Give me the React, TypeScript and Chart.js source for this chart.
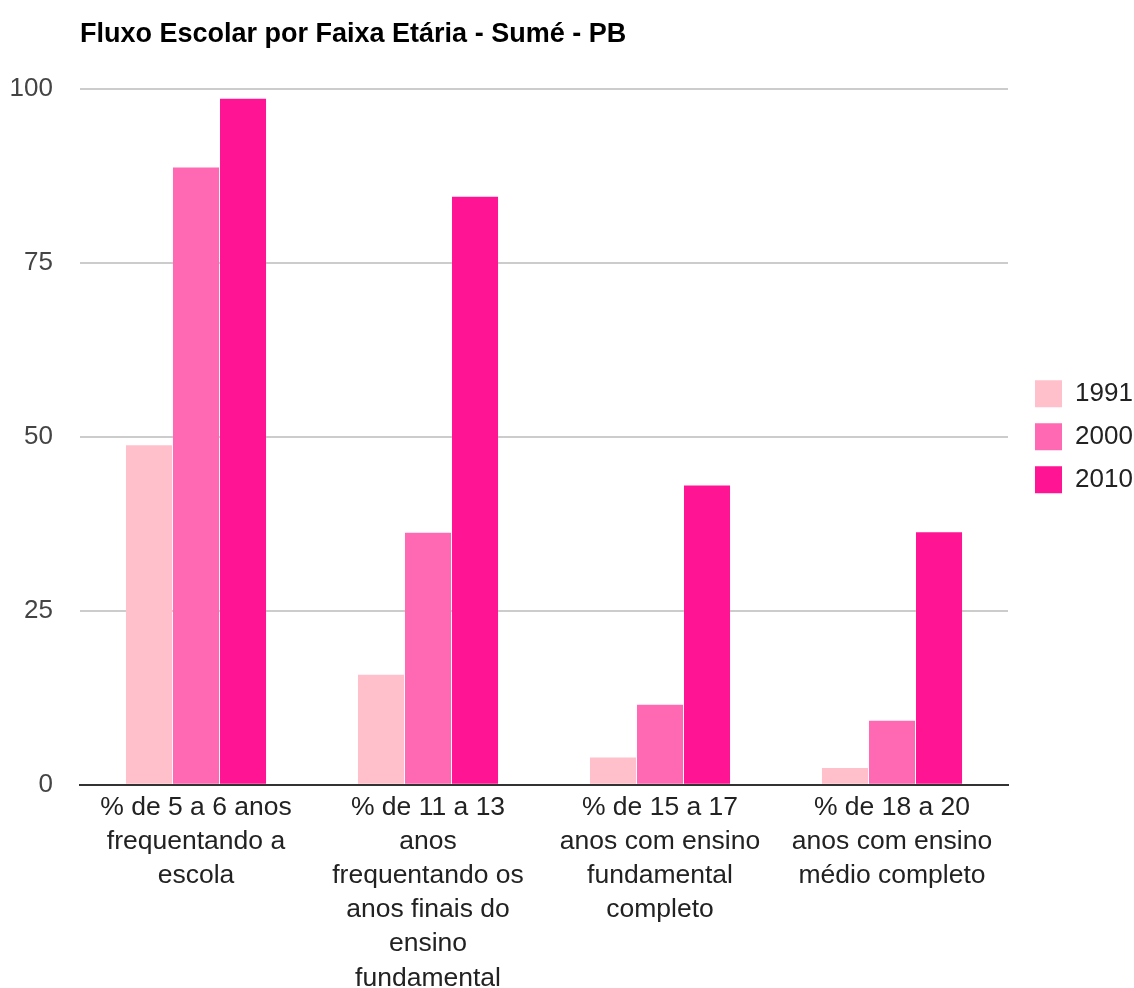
import { useEffect, useRef } from "react"
import { Chart, registerables, layouts } from "chart.js"

Chart.register(...registerables)

const categories = [
  ["% de 5 a 6 anos", "frequentando a", "escola"],
  ["% de 11 a 13", "anos", "frequentando os", "anos finais do", "ensino", "fundamental"],
  ["% de 15 a 17", "anos com ensino", "fundamental", "completo"],
  ["% de 18 a 20", "anos com ensino", "médio completo"],
]

const years = ["1991", "2000", "2010"]
const values1991 = [48.8, 15.8, 3.9, 2.4]
const values2000 = [88.7, 36.2, 11.5, 9.2]
const values2010 = [98.6, 84.5, 43.0, 36.3]
const yTicks = [0, 25, 50, 75, 100]

const colors = ["#ffc0cb", "#ff69b4", "#ff1493"]
const fontFamily = "Arial, 'Liberation Sans', Helvetica, sans-serif"

// empty box that pushes the legend a bit away from the plot
const legendGap = {
  id: "legendGap",
  beforeInit(chart: Chart) {
    const box: any = {
      position: "right",
      weight: 500,
      fullSize: false,
      options: {},
      left: 0,
      top: 0,
      right: 0,
      bottom: 0,
      width: 0,
      height: 0,
      isHorizontal: () => false,
      update(_w: number, h: number) {
        box.width = 11
        box.height = h
      },
      getPadding: () => ({ left: 0, right: 0, top: 0, bottom: 0 }),
      draw() {},
    }
    layouts.addBox(chart, box)
  },
}

export default function App() {
  const canvasRef = useRef<HTMLCanvasElement>(null)
  const chartRef = useRef<Chart | null>(null)

  useEffect(() => {
    if (!canvasRef.current) return
    if (chartRef.current) chartRef.current.destroy()

    const series = [values1991, values2000, values2010]

    chartRef.current = new Chart(canvasRef.current, {
      type: "bar",
      data: {
        labels: categories,
        datasets: series.map((data, i) => ({
          label: years[i],
          data,
          backgroundColor: colors[i],
          borderWidth: 0,
          categoryPercentage: 0.608,
          barPercentage: 0.979,
        })),
      },
      options: {
        animation: false,
        responsive: true,
        maintainAspectRatio: false,
        layout: { padding: { left: 10, right: 2, top: 0, bottom: 0 } },
        plugins: {
          title: {
            display: true,
            text: "Fluxo Escolar por Faixa Etária - Sumé - PB",
            align: "start",
            fullSize: false,
            color: "#000",
            font: { family: fontFamily, size: 27, weight: "bold" },
            padding: { top: 18, bottom: 38.6 },
          },
          legend: {
            position: "right",
            align: "center",
            fullSize: false,
            maxWidth: 113,
            labels: {
              color: "#222",
              font: { family: fontFamily, size: 26 },
              boxWidth: 27,
              boxHeight: 27,
              padding: 16,
            },
          },
          tooltip: { enabled: false },
        },
        scales: {
          x: {
            grid: { display: false, drawTicks: false },
            border: { color: "#333", width: 2 },
            ticks: {
              color: "#222",
              font: { family: fontFamily, size: 26.5, lineHeight: 1.29 },
              padding: 5.6,
              maxRotation: 0,
              autoSkip: false,
            },
          },
          y: {
            min: 0,
            max: 100,
            afterBuildTicks: (scale) => {
              scale.ticks = yTicks.map((value) => ({ value }))
            },
            afterFit: (scale) => {
              scale.width = 70
            },
            grid: { color: "#cccccc", lineWidth: 2, drawTicks: false },
            border: { display: false },
            ticks: {
              color: "#444",
              font: { family: fontFamily, size: 26 },
              padding: 27,
            },
          },
        },
      },
      plugins: [legendGap],
    })

    return () => {
      if (chartRef.current) {
        chartRef.current.destroy()
        chartRef.current = null
      }
    }
  }, [])

  return (
    <div style={{ position: "absolute", left: 0, top: 0, width: 1134, height: 988, overflow: "hidden", background: "#fff" }}>
      <div style={{ position: "relative", width: 1134, height: 1001 }}>
        <canvas ref={canvasRef} />
      </div>
    </div>
  )
}
